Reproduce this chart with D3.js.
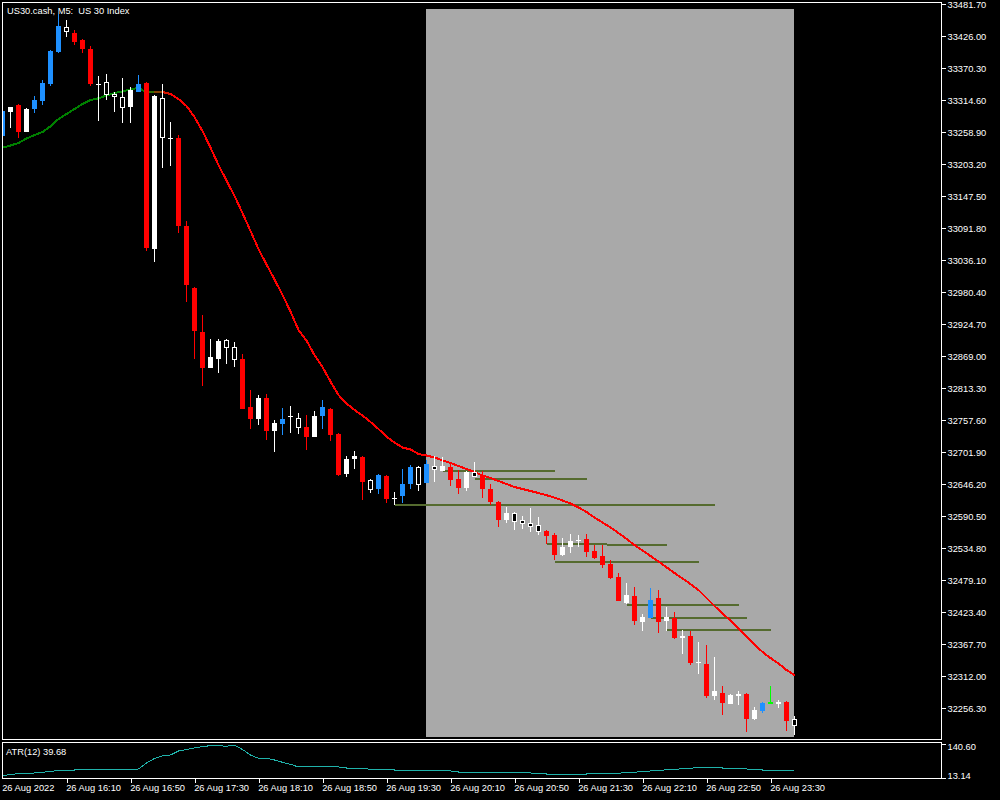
<!DOCTYPE html>
<html><head><meta charset="utf-8">
<script src="https://cdn.jsdelivr.net/npm/d3@7"></script>
<style>
html,body{margin:0;padding:0;background:#000;overflow:hidden}
svg{display:block}
text{font-family:"Liberation Sans",Arial,sans-serif;font-size:9.3px;fill:#fff;white-space:pre}
</style>
</head><body>
<svg id="chart" width="1000" height="800"></svg>
<script>
// ---------------- DATA ----------------
const chartTitle = "US30.cash, M5:  US 30 Index";
const atrTitle = "ATR(12) 39.68";

// 100 M5 bars, 26 Aug 2022 15:30 .. 23:45 (bar index 0..99)
const openPrices = [33252.5,33293.7,33305.9,33259.4,33299.4,33313.4,33343.0,33398.1,33441.7,33431.2,
33419.0,33402.9,33340.7,33345.9,33325.0,33319.8,33302.9,33329.0,33344.7,33055.8,
33317.6,33246.7,33249.0,33095.8,32987.4,32910.8,32848.6,32864.3,32896.9,32884.7,
32863.8,32780.2,32759.9,32795.9,32739.0,32751.2,32762.0,32761.1,32745.4,32728.5,
32765.1,32776.7,32733.8,32664.1,32690.2,32693.2,32653.2,32638.0,32660.1,32621.0,
32625.8,32646.7,32675.8,32648.5,32677.5,32669.4,32675.8,32654.9,32639.8,32667.1,
32662.4,32637.5,32614.9,32583.5,32595.7,32583.5,32578.3,32574.8,32564.4,32557.4,
32522.6,32536.5,32547.0,32550.5,32529.6,32520.9,32507.0,32484.3,32439.1,32451.3,
32406.0,32413.0,32447.8,32407.7,32413.0,32378.1,32381.6,32334.6,32332.9,32277.2,
32282.4,32263.3,32277.2,32280.7,32237.2,32251.1,32264.1,32263.3,32266.7,32237.2];

const highPrices = [33298.9,33302.4,33307.6,33300.7,33321.6,33349.4,33401.6,33464.3,33453.9,33436.4,
33421.3,33408.6,33356.4,33359.9,33328.5,33352.9,33337.2,33358.1,33346.5,33323.3,
33342.5,33276.3,33253.7,33104.0,32989.1,32940.4,32898.6,32898.6,32898.6,32893.4,
32872.5,32809.8,32801.1,32802.9,32757.6,32778.5,32782.0,32769.8,32766.3,32773.3,
32792.4,32778.5,32735.0,32694.9,32703.6,32694.9,32654.9,32663.6,32661.9,32632.8,
32672.3,32679.3,32677.5,32688.0,32694.9,32693.2,32681.0,32670.6,32668.8,32684.5,
32669.4,32646.7,32616.6,32606.2,32597.5,32590.5,32604.4,32588.8,32566.1,32560.9,
32552.2,32559.2,32557.4,32559.2,32540.0,32540.0,32513.9,32491.3,32473.9,32466.9,
32419.9,32465.2,32461.7,32432.1,32423.4,32392.1,32390.3,32371.2,32366.0,32345.1,
32294.6,32280.7,32285.9,32282.4,32258.0,32265.9,32294.6,32270.2,32268.5,32242.4];

const lowPrices = [33250.2,33266.4,33249.0,33258.9,33292.5,33306.4,33339.5,33396.9,33424.8,33410.9,
33396.9,33339.5,33278.6,33314.6,33294.2,33275.1,33275.1,33328.5,33052.3,33033.1,
33196.8,33199.7,33083.6,32963.5,32863.8,32817.3,32848.1,32839.9,32855.1,32850.4,
32776.7,32741.9,32749.4,32723.3,32702.4,32732.0,32735.5,32733.8,32705.9,32728.0,
32742.4,32721.6,32660.6,32658.9,32672.8,32618.9,32631.1,32629.3,32613.6,32610.2,
32613.6,32638.0,32634.5,32647.1,32650.2,32668.8,32642.7,32629.3,32634.5,32658.4,
32622.4,32609.6,32571.4,32578.3,32566.1,32568.4,32562.6,32557.4,32541.8,32513.9,
32521.7,32526.1,32536.5,32519.1,32515.6,32500.0,32481.7,32441.7,32437.3,32400.8,
32390.3,32412.1,32386.8,32390.3,32376.4,32350.3,32331.1,32315.5,32273.7,32270.2,
32244.1,32262.4,32261.5,32214.5,32235.4,32247.6,32263.3,32256.3,32216.3,32209.3];

const closePrices = [33295.4,33302.4,33259.4,33298.9,33314.6,33344.2,33399.9,33443.4,33432.4,33416.1,
33403.9,33343.0,33342.5,33323.8,33319.8,33301.2,33332.0,33341.9,33056.5,33321.6,
33247.9,33247.9,33095.3,32992.6,32913.0,32848.6,32867.3,32895.1,32883.4,32862.6,
32777.3,32759.9,32795.9,32739.0,32752.4,32759.3,32763.7,32744.2,32728.5,32764.6,
32780.8,32732.0,32662.4,32689.7,32694.1,32650.2,32636.3,32661.9,32620.6,32622.7,
32646.2,32675.8,32645.0,32681.0,32671.1,32677.5,32653.2,32639.8,32667.1,32658.9,
32637.5,32614.9,32584.1,32595.7,32580.6,32577.1,32571.9,32563.2,32555.7,32522.6,
32536.5,32547.0,32548.7,32527.8,32517.4,32505.2,32482.6,32442.5,32453.0,32407.7,
32414.7,32444.3,32406.0,32414.7,32378.1,32380.8,32334.6,32337.2,32277.2,32285.9,
32265.0,32278.9,32279.8,32237.2,32252.8,32265.0,32265.9,32265.9,32233.7,32225.5];

// candle class per bar: B strong bull, W bull, R strong bear, H bear, G signal
const candleClass = ["B","W","R","W","B","B","B","B","H","R",
"R","R","W","H","H","H","W","B","R","W",
"H","W","R","R","R","R","W","W","H","H",
"R","R","W","R","W","B","W","H","R","W",
"B","R","R","W","W","R","H","B","R","W",
"B","B","H","B","H","W","R","R","W","H",
"R","R","R","W","H","H","H","H","R","R",
"W","W","W","R","R","R","R","R","W","R",
"W","B","R","W","R","W","R","W","R","W",
"R","W","W","R","W","B","G","W","R","H"];

// moving average value per bar
const maValues = [33231.6,33235.4,33239.8,33247.6,33253.7,33258.9,33268.8,33281.5,33290.2,33298.9,
33307.6,33314.6,33317.6,33322.4,33326.8,33329.7,33333.2,33335.5,33328.0,33328.5,
33328.5,33325.0,33316.3,33304.2,33285.0,33260.6,33231.9,33201.5,33174.5,33147.5,
33117.9,33086.6,33055.3,33028.3,33002.2,32975.2,32946.5,32914.3,32896.0,32870.7,
32849.9,32824.6,32801.1,32786.3,32775.0,32765.4,32754.1,32741.9,32728.9,32718.4,
32709.7,32706.3,32698.4,32695.8,32692.3,32687.5,32682.8,32677.5,32672.3,32667.1,
32661.0,32656.6,32651.4,32646.2,32641.0,32637.5,32634.0,32630.5,32626.7,32622.4,
32617.5,32612.3,32605.3,32597.5,32587.9,32579.2,32570.5,32560.9,32550.5,32540.0,
32530.4,32520.9,32511.3,32501.2,32491.3,32481.7,32472.1,32461.7,32447.8,32433.8,
32420.8,32408.6,32394.7,32380.8,32366.8,32353.8,32343.3,32333.8,32322.4,32313.7];
// trend state of the moving average: up until bar 18, turning 18..21, down after
const maTrendPhases = [{from:0,to:18,trend:"up"},{from:18,to:21,trend:"turn"},{from:21,to:99,trend:"down"}];

// ATR(12) per bar
const atrValues = [20.6,27.0,28.9,30.8,31.9,34.5,37.5,41.3,43.1,43.1,
45.0,45.0,43.1,45.0,45.0,45.0,45.8,46.9,69.4,86.2,
96.7,99.4,114.4,120.0,125.6,131.2,134.2,134.2,132.4,135.7,
120.0,99.4,87.0,87.0,80.6,72.0,64.5,54.4,54.4,54.4,
54.4,54.4,54.4,50.6,49.5,49.5,45.8,45.8,45.8,43.1,
43.1,43.1,43.1,39.4,39.4,39.4,39.4,35.6,35.6,35.6,
35.6,35.6,35.6,34.5,33.0,33.0,31.9,30.0,28.1,28.1,
28.1,28.1,28.1,28.1,29.3,30.0,30.8,30.8,33.8,34.5,
37.5,39.4,41.3,43.9,45.8,47.6,49.5,52.5,53.2,52.5,
50.6,49.5,48.8,46.9,45.8,43.1,41.3,39.7,39.7,39.68];

// highlighted session zone (bar index range, price range)
const zoneBars = [53, 99];
const zonePrices = [32205.8, 33473.0];

// horizontal levels
const levelPrices = [32668.0, 32654.9, 32609.7, 32541.8, 32540.5, 32510.4, 32435.6, 32413.0, 32392.1];
const levelStartBars = [55, 59, 49, 68, 75.5, 69, 78, 81, 83];
const levelEndBars   = [69, 73, 89, 75.5, 83.1, 87, 92, 93, 96];

// axes
const priceTicks = [33481.70,33426.00,33370.30,33314.60,33258.90,33203.20,33147.50,33091.80,33036.10,
32980.40,32924.70,32869.00,32813.30,32757.60,32701.90,32646.20,32590.50,32534.80,32479.10,
32423.40,32367.70,32312.00,32256.30];
const atrTicks = [140.60, 13.14];
const timeTickBars = [0,8,16,24,32,40,48,56,64,72,80,88,96];
const timeTickLabels = ["26 Aug 2022","26 Aug 16:10","26 Aug 16:50","26 Aug 17:30","26 Aug 18:10",
"26 Aug 18:50","26 Aug 19:30","26 Aug 20:10","26 Aug 20:50","26 Aug 21:30","26 Aug 22:10",
"26 Aug 22:50","26 Aug 23:30"];

// ---------------- DRAW ----------------
const svg = d3.select("#chart");
svg.append("rect").attr("width",1000).attr("height",800).attr("fill","#000");

const x = d3.scaleLinear().domain([0, 99]).range([2.5, 794.5]);
const y = d3.scaleLinear().domain([32256.3, 33481.7]).range([708, 4]);
const yAtr = d3.scaleLinear().domain([13.14, 140.60]).range([778, 744]);

const colors = {B:"#1E90FF", W:"#FFFFFF", R:"#FF0000", H:"#FFFFFF", G:"#00FF00"};

const defs = svg.append("defs");
defs.append("clipPath").attr("id","clipMain").append("rect").attr("x",3).attr("y",3).attr("width",938).attr("height",736);
defs.append("clipPath").attr("id","clipAtr").append("rect").attr("x",3).attr("y",743).attr("width",938).attr("height",35);

const main = svg.append("g").attr("clip-path","url(#clipMain)").attr("shape-rendering","crispEdges");

// zone
main.append("rect")
  .attr("x", x(zoneBars[0]) - 0.5)
  .attr("y", Math.round(y(zonePrices[1])))
  .attr("width", x(zoneBars[1]) - x(zoneBars[0]))
  .attr("height", Math.round(y(zonePrices[0])) - Math.round(y(zonePrices[1])))
  .attr("fill", "#A9A9A9");

// levels
main.selectAll("line.level").data(levelPrices).join("line").attr("class","level")
  .attr("x1",(d,i)=>x(levelStartBars[i])).attr("x2",(d,i)=>x(levelEndBars[i]))
  .attr("y1",d=>Math.round(y(d))).attr("y2",d=>Math.round(y(d)))
  .attr("stroke","#556B2F").attr("stroke-width",2);

// moving average segments
const upC = "#008000", downC = "#FF0000";
const interp = d3.interpolateRgb(upC, downC);
function segColor(i){ // segment i -> i+1
  for (const p of maTrendPhases){
    if (i >= p.from && i < p.to){
      if (p.trend === "up") return upC;
      if (p.trend === "down") return downC;
      return interp((i + 0.5 - p.from) / (p.to - p.from));
    }
  }
  return downC;
}
const maSegs = d3.range(maValues.length - 1);
main.selectAll("line.ma").data(maSegs).join("line").attr("class","ma")
  .attr("x1",i=>x(i)).attr("x2",i=>x(i+1))
  .attr("y1",i=>y(maValues[i])).attr("y2",i=>y(maValues[i+1]))
  .attr("stroke",i=>segColor(i)).attr("stroke-width",2).attr("stroke-linecap","round");

// candles
const bars = d3.range(openPrices.length);
const cg = main.append("g");
bars.forEach(i=>{
  const o=openPrices[i], h=highPrices[i], l=lowPrices[i], c=closePrices[i], k=candleClass[i];
  const cx = x(i);
  const col = colors[k];
  const yh = Math.round(y(h)), yl = Math.round(y(l));
  let top = Math.round(y(Math.max(o,c))), bot = Math.round(y(Math.min(o,c)));
  if (bot - top < 1) bot = top + 1;
  cg.append("rect").attr("x",cx-0.5).attr("y",yh).attr("width",1).attr("height",Math.max(1,yl-yh)).attr("fill",col);
  cg.append("rect").attr("x",cx-2.5).attr("y",top).attr("width",5).attr("height",bot-top).attr("fill",col);
  if (k === "H" && bot - top > 2){
    cg.append("rect").attr("x",cx-1.5).attr("y",top+1).attr("width",3).attr("height",bot-top-2).attr("fill","#000");
  }
});

// frames
svg.append("rect").attr("x",2.5).attr("y",2.5).attr("width",939).attr("height",737)
  .attr("fill","none").attr("stroke","#fff").attr("shape-rendering","crispEdges");
svg.append("rect").attr("x",2.5).attr("y",742.5).attr("width",939).attr("height",36)
  .attr("fill","none").attr("stroke","#fff").attr("shape-rendering","crispEdges");

// price axis
const pAxis = svg.append("g").attr("transform","translate(942,0)")
  .call(d3.axisRight(y).tickValues(priceTicks).tickFormat(d3.format(".2f")).tickSize(4).tickPadding(1.5));
pAxis.select(".domain").remove();
pAxis.selectAll("line").attr("stroke","#fff").attr("shape-rendering","crispEdges");
pAxis.selectAll("text").attr("fill","#fff").attr("font-family",null).attr("font-size",null).attr("dy","0.34em");

// ATR axis
const aAxis = svg.append("g").attr("transform","translate(942,0)")
  .call(d3.axisRight(yAtr).tickValues(atrTicks).tickFormat(d3.format(".2f")).tickSize(4).tickPadding(1.5));
aAxis.select(".domain").remove();
aAxis.selectAll("line").attr("stroke","#fff").attr("shape-rendering","crispEdges");
aAxis.selectAll("text").attr("fill","#fff").attr("font-family",null).attr("font-size",null)
  .attr("dy",d=> d === atrTicks[0] ? "0.62em" : "0.0em");

// time axis
const tAxis = svg.append("g").attr("transform","translate(0,779)")
  .call(d3.axisBottom(x).tickValues(timeTickBars).tickFormat((d,i)=>timeTickLabels[i]).tickSize(4));
tAxis.select(".domain").remove();
tAxis.selectAll("line").attr("stroke","#fff").attr("shape-rendering","crispEdges")
  .attr("display",d=> d === 0 ? "none" : null);
tAxis.selectAll("text").attr("fill","#fff").attr("font-family",null).attr("font-size",null)
  .attr("text-anchor","start").attr("x",-0.8).attr("y",12.3).attr("dy",null);

// ATR line
svg.append("g").attr("clip-path","url(#clipAtr)")
  .append("path").datum(atrValues)
  .attr("d", d3.line().x((d,i)=>x(i)).y(d=>yAtr(d)))
  .attr("fill","none").attr("stroke","#20B2AA").attr("stroke-width",1).attr("shape-rendering","crispEdges");

// titles
svg.append("text").attr("x",7).attr("y",13.5).text(chartTitle);
svg.append("text").attr("x",6).attr("y",754.5).text(atrTitle);
</script>
</body></html>
